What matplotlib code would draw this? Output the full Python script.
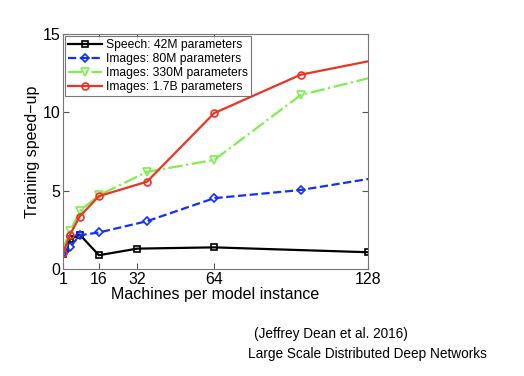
import matplotlib
matplotlib.use("Agg")
import matplotlib.pyplot as plt

speech_x = [1, 2, 4, 8, 16, 32, 64, 128]
speech_y = [0.95, 1.28, 1.9, 2.2, 0.88, 1.3, 1.38, 1.07]

images_x = [1, 4, 8, 16, 36, 64, 100, 144]
img80_y = [1.0, 1.4, 2.15, 2.33, 3.05, 4.52, 5.04, 6.14]
img330_y = [1.3, 2.4, 3.7, 4.7, 6.2, 6.96, 11.1, 12.78]
img17_y = [1.0, 2.2, 3.35, 4.65, 5.57, 9.95, 12.4, 13.74]

labels = ["Speech: 42M parameters", "Images: 80M parameters",
          "Images: 330M parameters", "Images: 1.7B parameters"]
xticks = [1, 16, 32, 64, 128]
yticks = [0, 5, 10, 15]

plt.rcParams['font.family'] = ['Liberation Sans', 'DejaVu Sans']

fig = plt.figure(figsize=(5.24, 3.76), dpi=100)
ax = fig.add_axes([0.120, 0.2846, 0.582, 0.625])

ms = 5
ax.plot(speech_x, speech_y, '-', color='black', lw=1.6, marker='s', ms=ms,
        mfc='none', mec='black', mew=1.2, label=labels[0])
ax.plot(images_x, img80_y, '--', color='#1030ff', lw=1.6, marker='D', ms=ms - 0.5,
        mfc='none', mec='#1030ff', mew=1.2, label=labels[1])
ax.plot(images_x, img330_y, '-.', color='#80ee50', lw=1.6, marker='v', ms=ms + 0.8,
        mfc='none', mec='#80ee50', mew=1.2, label=labels[2])
ax.plot(images_x, img17_y, '-', color='#ee3322', lw=1.6, marker='o', ms=ms,
        mfc='none', mec='#ee3322', mew=1.2, label=labels[3])

ax.set_xlim(1, 128)
ax.set_ylim(0, 15)
ax.set_xticks(xticks)
ax.set_yticks(yticks)
ax.tick_params(direction='in', top=True, right=True, labelsize=11.5, length=4,
               color='#555555', pad=2)
for s in ax.spines.values():
    s.set_color('#777777')
    s.set_linewidth(0.8)
ax.set_xlabel("Machines per model instance", fontsize=11.5, labelpad=0)
ax.set_ylabel("Training speed\u2212up", fontsize=11.5, labelpad=2)

leg = ax.legend(loc='upper left', fontsize=8.7, frameon=True, fancybox=False,
                borderpad=0.25, labelspacing=0.15, handlelength=2.8,
                handletextpad=0.3, borderaxespad=0.2)
leg.get_frame().set_edgecolor('#555555')
leg.get_frame().set_linewidth(0.8)

fig.text(0.485, 0.100, "(Jeffrey Dean et al. 2016)", fontsize=9.8)
fig.text(0.474, 0.047, "Large Scale Distributed Deep Networks", fontsize=9.8)

fig.savefig("out.png", dpi=100)
